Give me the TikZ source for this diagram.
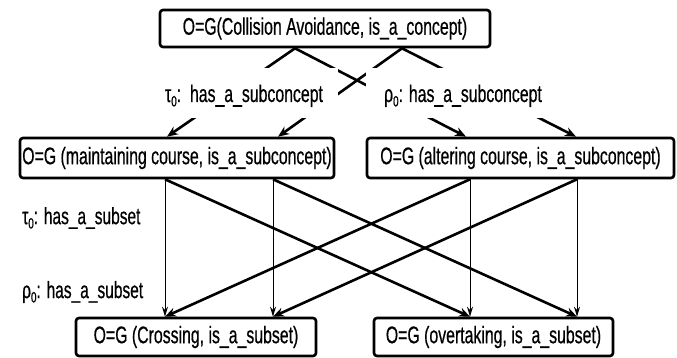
\documentclass[tikz,border=0pt]{standalone}
\usepackage{fontspec}
\setmainfont{Liberation Sans}[FakeStretch=0.66,FakeBold=0.5]
\usetikzlibrary{arrows.meta}
\newcommand\subz{\raisebox{-0.35ex}{\fontsize{15}{15}\selectfont 0}}
\begin{document}
\begin{tikzpicture}[x=1pt,y=-1pt,
  box/.style={draw, line width=2.6pt, rounded corners=3pt, inner sep=0pt, fill=white,
              font=\fontsize{24}{28}\selectfont},
  thickarrow/.style={line width=2.6pt, -{Stealth[length=11pt,width=9pt]}},
  thinarrow/.style={line width=1pt, -{Stealth[length=10pt,width=6pt]}},
  lbl/.style={fill=white, inner sep=0pt, font=\fontsize{24}{28}\selectfont,
              text height=22pt, text depth=4pt},
  side/.style={inner sep=0pt, font=\fontsize{23.5}{28}\selectfont}]
\useasboundingbox (0,0) rectangle (677,358);

% boxes
\node[box, minimum width=330pt, minimum height=37pt] (top) at (325,28.5)
  {O=G(Collision Avoidance, is\_a\_concept)};
\node[box, minimum width=314pt, minimum height=40pt] (maint) at (177,158)
  {O=G (maintaining course, is\_a\_subconcept)};
\node[box, minimum width=307pt, minimum height=40pt] (alter) at (520.5,158)
  {O=G (altering course, is\_a\_subconcept)};
\node[box, minimum width=240pt, minimum height=38pt] (cross) at (196,337)
  {O=G (Crossing, is\_a\_subset)};
\node[box, minimum width=239pt, minimum height=38pt] (overt) at (493.5,337)
  {O=G (overtaking, is\_a\_subset)};

% anchor points
\coordinate (p1) at (top.south -| 295,0);
\coordinate (p2) at (top.south -| 402,0);
\coordinate (a1) at (maint.north -| 167,0);
\coordinate (a2) at (maint.north -| 278,0);
\coordinate (a3) at (alter.north -| 466,0);
\coordinate (a4) at (alter.north -| 576,0);
\coordinate (b1) at (maint.south -| 165,0);
\coordinate (b2) at (maint.south -| 273,0);
\coordinate (b3) at (alter.south -| 470,0);
\coordinate (b4) at (alter.south -| 577,0);
\coordinate (c1) at (cross.north -| 165,0);
\coordinate (c2) at (cross.north -| 273,0);
\coordinate (c3) at (overt.north -| 470,0);
\coordinate (c4) at (overt.north -| 577,0);

% upper connectors
\draw[thickarrow] (p1) -- (a1);
\draw[thickarrow] (p1) -- (a3);
\draw[thickarrow] (p2) -- (a2);
\draw[thickarrow] (p2) -- (a4);

% labels covering the connectors
\node[lbl, minimum width=188pt, minimum height=50pt] (tau) at (244,93)
  {τ\subz:\ \ has\_a\_subconcept};
\node[lbl, minimum width=195pt, minimum height=50pt] (rho) at (463,93)
  {ρ\subz: has\_a\_subconcept};

% lower connectors
\draw[thinarrow] (b1) -- (c1);
\draw[thinarrow] (b2) -- (c2);
\draw[thinarrow] (b3) -- (c3);
\draw[thinarrow] (b4) -- (c4);
\draw[thickarrow] (b1) -- (c3);
\draw[thickarrow] (b2) -- (c4);
\draw[thickarrow] (b3) -- (c1);
\draw[thickarrow] (b4) -- (c2);

\node[side, anchor=west] (tsub) at (22,218) {τ\subz: has\_a\_subset};
\node[side, anchor=west] (rsub) at (22,292) {ρ\subz: has\_a\_subset};
\end{tikzpicture}
\end{document}
